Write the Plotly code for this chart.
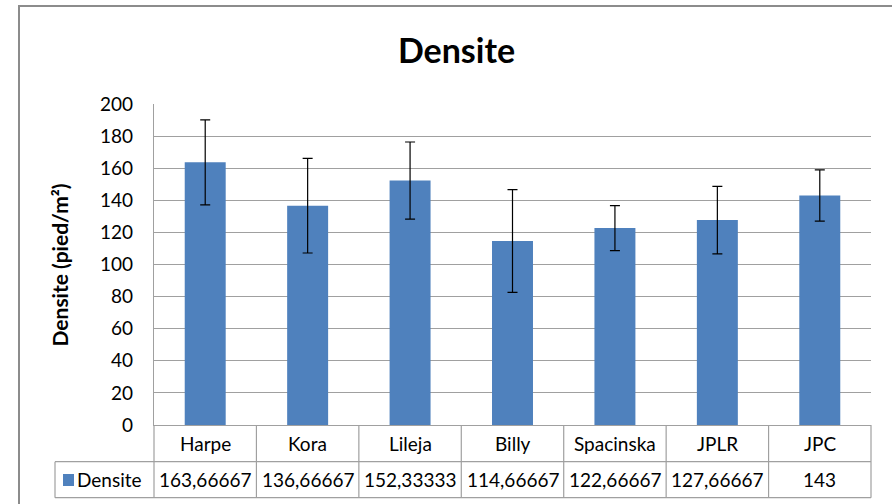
import plotly.graph_objects as go

categories = ["Harpe", "Kora", "Lileja", "Billy", "Spacinska", "JPLR", "JPC"]
densite = [163.66667, 136.66667, 152.33333, 114.66667, 122.66667, 127.66667, 143]
erreurs = [26.5, 29.5, 24, 32, 14, 21, 16]
y_ticks = [0, 20, 40, 60, 80, 100, 120, 140, 160, 180, 200]
series_name = "Densite"

FONT = "Lato, 'Open Sans', sans-serif"
BAR = "#4F81BD"
GRID = "#a0a0a0"
LINE = "#a0a0a0"

W_FIG, H_FIG = 892, 504
L, R, T, B = 154, 871, 104, 425
PW, PH = R - L, B - T


def px(xp):
    return (xp - L) / PW


def py(yp):
    return (B - yp) / PH


def fmt(v):
    s = f"{v:.5f}".rstrip("0").rstrip(".")
    return s.replace(".", ",")


fig = go.Figure()
fig.add_trace(go.Bar(
    x=categories, y=densite, name=series_name,
    marker=dict(color=BAR, line=dict(width=0)),
    width=0.4,
    error_y=dict(type="data", array=erreurs, visible=True,
                 color="#000000", thickness=1.2, width=5),
))

n = len(categories)
row1 = 461.7
row2 = 497.7
shapes = []
# outer chart border (left and top, extends beyond view)
shapes.append(dict(type="rect", xref="paper", yref="paper",
                   x0=px(19), x1=px(W_FIG + 20), y0=py(H_FIG + 20), y1=py(6),
                   line=dict(color="#8c8c8c", width=2), fillcolor="rgba(0,0,0,0)", layer="below"))
# table horizontal lines
for yy in (row1, row2):
    shapes.append(dict(type="line", xref="paper", yref="paper",
                       x0=px(55), x1=1, y0=py(yy), y1=py(yy),
                       line=dict(color=LINE, width=1.2)))
# left vertical of value row
shapes.append(dict(type="line", xref="paper", yref="paper",
                   x0=px(55), x1=px(55), y0=py(row1), y1=py(row2),
                   line=dict(color=LINE, width=1.2)))
# column separators
for i in range(n + 1):
    xx = i / n
    shapes.append(dict(type="line", xref="paper", yref="paper",
                       x0=xx, x1=xx, y0=0, y1=py(row2),
                       line=dict(color=LINE, width=1.2)))
# legend key
shapes.append(dict(type="rect", xref="paper", yref="paper",
                   x0=px(63), x1=px(74), y0=py(486), y1=py(474),
                   fillcolor=BAR, line=dict(width=0)))

annotations = []
for i, (c, v) in enumerate(zip(categories, densite)):
    annotations.append(dict(x=c, xref="x", y=py((B + row1) / 2), yref="paper",
                            text=c, showarrow=False, xanchor="center", yanchor="middle",
                            font=dict(family=FONT, size=19, color="#000")))
    annotations.append(dict(x=c, xref="x", y=py((row1 + row2) / 2), yref="paper",
                            text=fmt(v), showarrow=False, xanchor="center", yanchor="middle",
                            font=dict(family=FONT, size=19, color="#000")))
annotations.append(dict(x=px(75), xref="paper", y=py((row1 + row2) / 2), yref="paper",
                        text=series_name, showarrow=False, xanchor="left", yanchor="middle",
                        font=dict(family=FONT, size=19, color="#000")))
annotations.append(dict(x=px(59), xref="paper", y=0.5, yref="paper",
                        text="<b>Densite (pied/m²)</b>", textangle=-90, showarrow=False,
                        xanchor="center", yanchor="middle",
                        font=dict(family=FONT, size=21, color="#000")))

fig.update_layout(
    width=W_FIG, height=H_FIG,
    margin=dict(l=L, r=W_FIG - R, t=T, b=H_FIG - B, pad=0),
    paper_bgcolor="white", plot_bgcolor="white",
    showlegend=False,
    title=dict(text="<b>Densite</b>", x=(398 + 515) / 2 / W_FIG, xanchor="center",
               y=1 - 51 / H_FIG, yanchor="middle",
               font=dict(family=FONT, size=34, color="#000")),
    xaxis=dict(showticklabels=False, showgrid=False, ticks="",
               showline=True, linecolor=LINE, linewidth=1.2, zeroline=False),
    yaxis=dict(range=[0, 200], tickvals=y_ticks, showgrid=True, gridcolor=GRID, gridwidth=1.2,
               showline=True, linecolor=LINE, linewidth=1.2, zeroline=False,
               ticks="", ticklabelstandoff=16,
               tickfont=dict(family=FONT, size=19, color="#000")),
    shapes=shapes, annotations=annotations,
    font=dict(family=FONT),
)

fig.write_html("out.html", config={"displayModeBar": False},
               post_script="document.body.style.margin='0';document.body.style.overflow='hidden';")
